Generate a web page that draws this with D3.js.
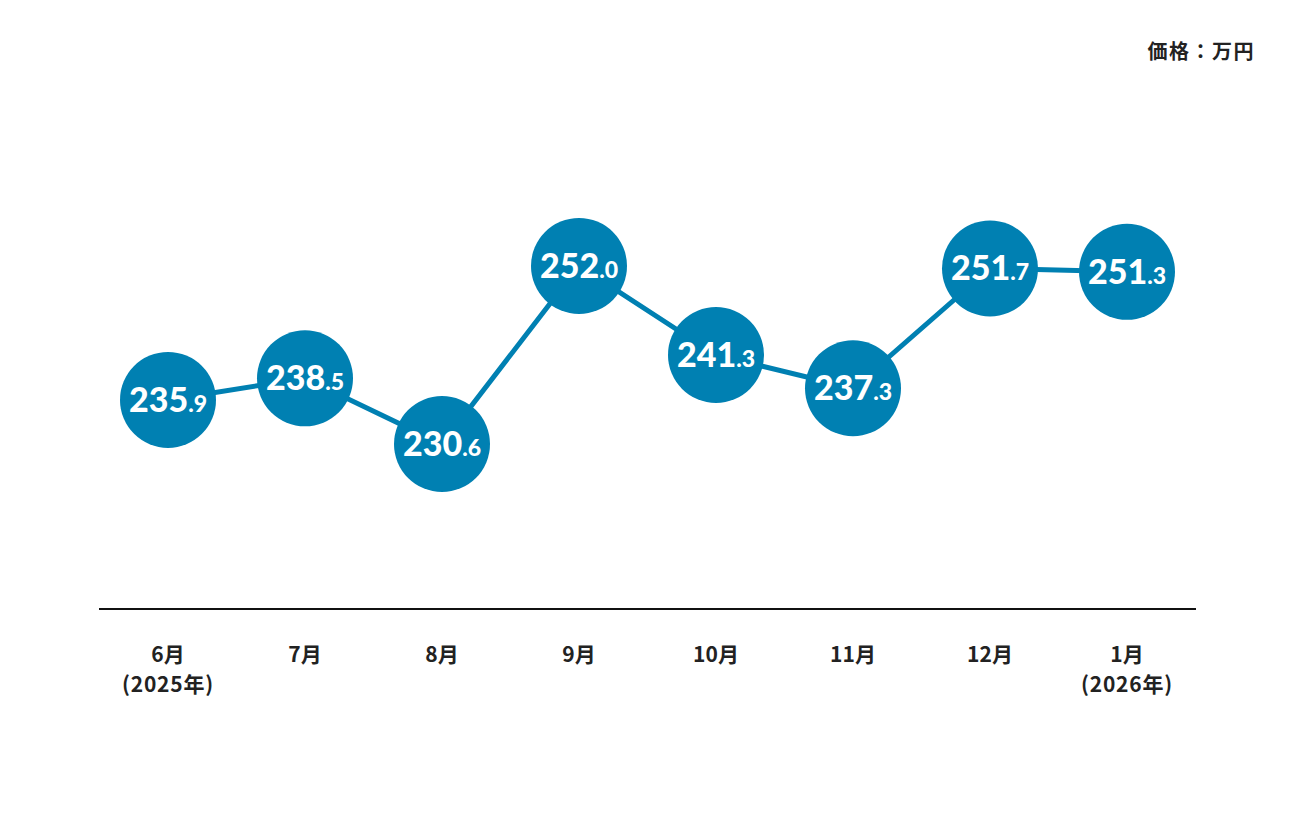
<!DOCTYPE html>
<html><head><meta charset="utf-8">
<script src="https://cdn.jsdelivr.net/npm/d3@7"></script>
<style>body{margin:0;background:#fff;} text{font-family:"Noto Sans CJK JP","Noto Sans",sans-serif;}</style>
</head><body>
<svg id="c" width="1296" height="816"></svg>
<script>
const months = ["6月","7月","8月","9月","10月","11月","12月","1月"];
const years = ["(2025年)","","","","","","","(2026年)"];
const prices = [235.9, 238.5, 230.6, 252.0, 241.3, 237.3, 251.7, 251.3];
const unitLabel = "価格：万円";

const svg = d3.select("#c");
const color = "#0080b2";
const x = d3.scalePoint().domain(months).range([168, 1127]);
const y = d3.scaleLinear().domain([220, 260]).range([532.2, 199.4]);

// unit label
svg.append("text").attr("x", 1255).attr("y", 59).attr("text-anchor", "end")
  .attr("font-size", 20).attr("letter-spacing", 1.5).attr("font-weight", 700).attr("fill", "#222").text(unitLabel);

// axis line
const axis = d3.axisBottom(x).tickSize(0).tickFormat("");
const ag = svg.append("g").attr("transform", "translate(0,609)").call(axis);
ag.select(".domain").remove();
ag.append("line").attr("x1", 99).attr("x2", 1196).attr("stroke", "#111").attr("stroke-width", 2);

// x labels
months.forEach((m, i) => {
  const t = svg.append("text").attr("x", x(m)).attr("text-anchor", "middle")
    .attr("font-size", 21).attr("font-weight", 700).attr("fill", "#222");
  t.append("tspan").attr("x", x(m)).attr("y", 662).text(m);
  if (years[i]) t.append("tspan").attr("x", x(m)).attr("y", 692).attr("letter-spacing", 0.8).text(years[i]);
});

// line
const data = months.map((m, i) => ({m, v: prices[i]}));
svg.append("path").datum(data)
  .attr("d", d3.line().x(d => x(d.m)).y(d => y(d.v)))
  .attr("fill", "none").attr("stroke", color).attr("stroke-width", 5);

// circles
const g = svg.selectAll("g.pt").data(data).join("g").attr("class", "pt")
  .attr("transform", d => `translate(${x(d.m)},${y(d.v)})`);
g.append("circle").attr("r", 48).attr("fill", color);
const lbl = g.append("text").attr("y", 12).attr("text-anchor", "middle").attr("fill", "#fff")
  .style("font-family", "Lato, 'Noto Sans', sans-serif").attr("font-weight", 900);
lbl.append("tspan").attr("font-size", 34).text(d => Math.floor(d.v));
lbl.append("tspan").attr("font-size", 23).text(d => "." + d.v.toFixed(1).split(".")[1]);
</script>
</body></html>
